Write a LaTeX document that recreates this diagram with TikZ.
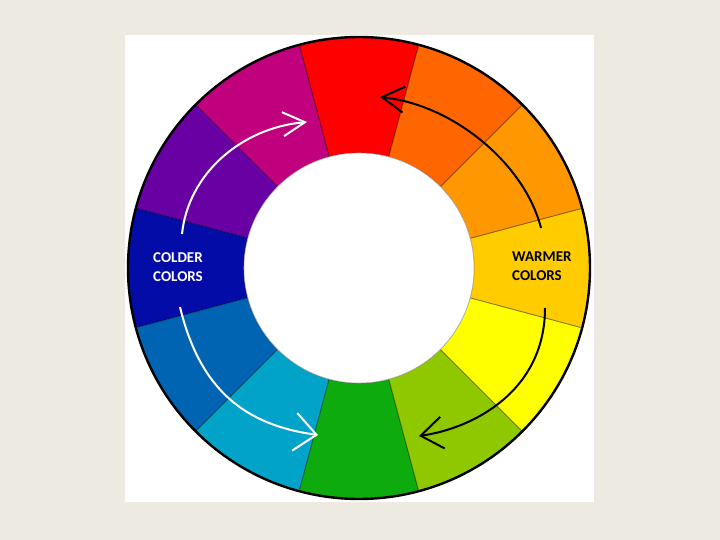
\documentclass[tikz,border=0pt]{standalone}
\usepackage{fontspec}
\setmainfont{Carlito}
\usepackage{tikz}
\usetikzlibrary{calc,arrows.meta}
\definecolor{bgbeige}{RGB}{237,234,225}
\definecolor{cred}{RGB}{255,0,0}
\definecolor{cmagenta}{RGB}{192,0,124}
\definecolor{cviolet}{RGB}{104,0,164}
\definecolor{cdarkblue}{RGB}{4,12,168}
\definecolor{cblue}{RGB}{0,100,178}
\definecolor{cbluegreen}{RGB}{2,163,200}
\definecolor{cgreen}{RGB}{14,171,14}
\definecolor{cyellowgreen}{RGB}{144,200,0}
\definecolor{cyellow}{RGB}{255,255,0}
\definecolor{cyelloworange}{RGB}{255,204,0}
\definecolor{corange}{RGB}{255,152,0}
\definecolor{corangered}{RGB}{255,102,0}

\begin{document}
\begin{tikzpicture}[x=1pt,y=-1pt,
  coldarrow/.style={white,line width=2pt,-{Straight Barb[length=22pt,width=#1]}},
  coldarrow/.default=24pt,
  warmarrow/.style={black,line width=2pt,-{Straight Barb[length=22pt,width=#1]}},
  warmarrow/.default=26pt,
  colortext/.style={font=\bfseries\fontsize{15}{19}\selectfont,align=left,inner sep=0pt}]
\def\ROUT{231};\def\RIN{115};
\fill[bgbeige] (0,0) rectangle (720,540);
\fill[white] (125,35) rectangle (594,502);
\coordinate (o) at (359,268);
\begin{scope}[shift={(o)},yscale=-1]
\foreach \ang/\col in {90/cred,120/cmagenta,150/cviolet,180/cdarkblue,210/cblue,240/cbluegreen,
  270/cgreen,300/cyellowgreen,330/cyellow,360/cyelloworange,30/corange,60/corangered}{
  \filldraw[fill=\col,draw=black,draw opacity=.35,line width=.9pt]
    (\ang-15:\ROUT) arc[start angle=\ang-15,end angle=\ang+15,radius=\ROUT]
    --(\ang+15:\RIN) arc[start angle=\ang+15,end angle=\ang-15,radius=\RIN]--cycle;
}
\filldraw[fill=white,draw=black!30,line width=.6pt] (0,0) circle[radius=\RIN];
\draw[line width=2.4pt] (0,0) circle[radius=\ROUT];
\end{scope}
\node[colortext,white,anchor=west] (cold) at (153,267.5) {COLDER\\COLORS};
\node[colortext,black,anchor=west] (warm) at (512,266.4) {WARMER\\COLORS};
\coordinate (c1s) at (182,234);
\coordinate (c1e) at (307,122);
\coordinate (c2s) at (180,307);
\coordinate (c2e) at (318,435);
\coordinate (w1s) at (541,228);
\coordinate (w1e) at (380,97);
\coordinate (w2s) at (545,308);
\coordinate (w2e) at (419,436);
\draw[coldarrow] (c1s) .. controls (188,175) and (240,128) .. (c1e);
\draw[coldarrow=38pt] (c2s) .. controls (200,390) and (245,425) .. (c2e);
\draw[warmarrow] (w1s) .. controls (525,165) and (455,105) .. (w1e);
\draw[warmarrow=32pt] (w2s) .. controls (545,390) and (475,428) .. (w2e);
\end{tikzpicture}
\end{document}
